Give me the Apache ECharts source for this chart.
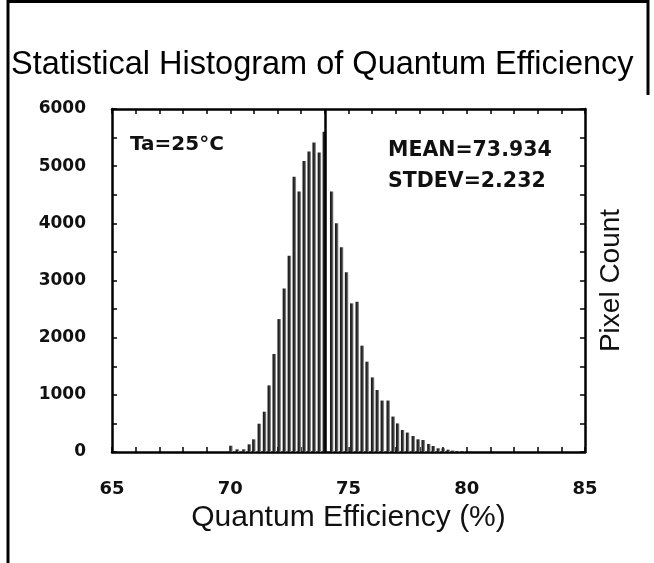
<!DOCTYPE html>
<html>
<head>
<meta charset="utf-8">
<title>Statistical Histogram of Quantum Efficiency</title>
<script src="https://cdn.jsdelivr.net/npm/echarts@6/dist/echarts.min.js"></script>
<style>
  html, body { margin: 0; padding: 0; background: #fff; }
  #histContainer { width: 654px; height: 563px; }
</style>
</head>
<body>
<div id="histContainer"></div>
<script>
'use strict';
// 数据：每个柱子的中心位置(%)和像素计数
var qeBins = [70.03, 70.30, 70.58, 70.81, 71.00, 71.23, 71.45, 71.65, 71.86, 72.07,
              72.29, 72.50, 72.71, 72.92, 73.13, 73.34, 73.55, 73.77, 73.98, 74.29,
              74.50, 74.71, 74.92, 75.14, 75.37, 75.58, 75.79, 76.02, 76.22, 76.43,
              76.68, 76.89, 77.08, 77.29, 77.50, 77.74, 77.95, 78.16, 78.40, 78.59,
              78.80, 79.01, 79.22, 79.42, 79.63, 79.84];
var pixelCounts = [110, 47, 47, 134, 222, 495, 705, 1165, 1715, 2325,
                   2860, 3435, 4815, 4555, 5090, 5255, 5415, 5240, 5600, 4555,
                   4000, 3580, 3143, 2600, 2630, 1860, 1580, 1305, 1085, 900,
                   900, 620, 500, 385, 340, 280, 222, 210, 140, 105,
                   65, 65, 40, 25, 15, 10];
var meanLinePos = 74.03;
var xTicks = [65, 85, 5];
var yTicks = [0, 6000, 1000];
var notes = ['Ta=25°C', 'MEAN=73.934', 'STDEV=2.232'];

var histData = [];
for (var i = 0; i < qeBins.length; i++) {
    histData.push([qeBins[i], pixelCounts[i]]);
}

var boldFont = 'DejaVu Sans';
var axisBase = {
    axisLine: {show: true, onZero: false, lineStyle: {color: '#000', width: 2.5}},
    axisTick: {show: true, inside: true, length: 5, lineStyle: {color: '#000', width: 1.5}},
    minorTick: {show: true, length: 5, lineStyle: {color: '#000', width: 1.5}},
    splitLine: {show: false}
};

function makeAxis(extra) {
    var a = JSON.parse(JSON.stringify(axisBase));
    for (var k in extra) { a[k] = extra[k]; }
    return a;
}

var myChart = echarts.init(document.getElementById('histContainer'));
var option = {
    backgroundColor: '#fff',
    animation: false,
    title: {
        text: 'Statistical Histogram of Quantum Efficiency',
        left: 6,
        top: 44,
        textStyle: {fontFamily: 'Liberation Sans', fontWeight: 'normal', fontSize: 32.5, color: '#000'}
    },
    grid: {left: 112, top: 109, right: 69, bottom: 111},
    xAxis: [
        makeAxis({
            type: 'value', position: 'bottom',
            min: xTicks[0], max: xTicks[1], interval: xTicks[2],
            minorTick: {show: true, splitNumber: 5, length: 5, lineStyle: {color: '#000', width: 1.5}},
            axisLabel: {margin: 28, color: '#111', fontFamily: boldFont, fontWeight: 'bold', fontSize: 18},
            name: 'Quantum Efficiency (%)',
            nameLocation: 'middle',
            nameGap: 51,
            nameTextStyle: {fontFamily: 'Liberation Sans', fontSize: 30, color: '#111'}
        }),
        makeAxis({
            type: 'value', position: 'top',
            min: xTicks[0], max: xTicks[1], interval: xTicks[2],
            minorTick: {show: true, splitNumber: 5, length: 5, lineStyle: {color: '#000', width: 1.5}},
            axisLabel: {show: false}
        })
    ],
    yAxis: [
        makeAxis({
            type: 'value', position: 'left',
            min: yTicks[0], max: yTicks[1], interval: yTicks[2],
            minorTick: {show: true, splitNumber: 2, length: 5, lineStyle: {color: '#000', width: 1.5}},
            axisLabel: {
                margin: 26, color: '#111', fontFamily: boldFont, fontWeight: 'bold', fontSize: 17,
                formatter: function (v) { return String(v); }
            }
        }),
        makeAxis({
            type: 'value', position: 'right',
            min: yTicks[0], max: yTicks[1], interval: yTicks[2],
            minorTick: {show: true, splitNumber: 2, length: 5, lineStyle: {color: '#000', width: 1.5}},
            axisLabel: {show: false},
            name: 'Pixel Count',
            nameLocation: 'middle',
            nameRotate: 90,
            nameGap: 12,
            nameTextStyle: {fontFamily: 'Liberation Sans', fontSize: 28, color: '#111', verticalAlign: 'top'}
        })
    ],
    series: [
        {
            name: 'Pixel Count',
            type: 'bar',
            xAxisIndex: 0,
            yAxisIndex: 0,
            barWidth: 3.5,
            data: histData,
            itemStyle: {
                color: new echarts.graphic.LinearGradient(0, 0, 1, 0, [
                    {offset: 0, color: '#111'},
                    {offset: 0.55, color: '#333'},
                    {offset: 1, color: '#aaa'}
                ])
            },
            markLine: {
                silent: true,
                symbol: 'none',
                label: {show: false},
                lineStyle: {color: '#000', type: 'solid', width: 2.5},
                data: [{xAxis: meanLinePos}]
            }
        }
    ],
    graphic: [
        {type: 'text', left: 130, top: 135, style: {text: notes[0], font: 'bold 20px "DejaVu Sans"', fill: '#111'}},
        {type: 'text', left: 388, top: 140, style: {text: notes[1], font: 'bold 20.5px "DejaVu Sans"', fill: '#111'}},
        {type: 'text', left: 388, top: 171, style: {text: notes[2], font: 'bold 20.5px "DejaVu Sans"', fill: '#111'}},
        // 外框线
        {type: 'line', shape: {x1: 8, y1: 0, x2: 8, y2: 563}, style: {stroke: '#000', lineWidth: 3}},
        {type: 'line', shape: {x1: 8, y1: 1.5, x2: 648, y2: 1.5}, style: {stroke: '#000', lineWidth: 3}},
        {type: 'line', shape: {x1: 648, y1: 0, x2: 648, y2: 95}, style: {stroke: '#000', lineWidth: 3}}
    ]
};
myChart.setOption(option);
</script>
</body>
</html>
